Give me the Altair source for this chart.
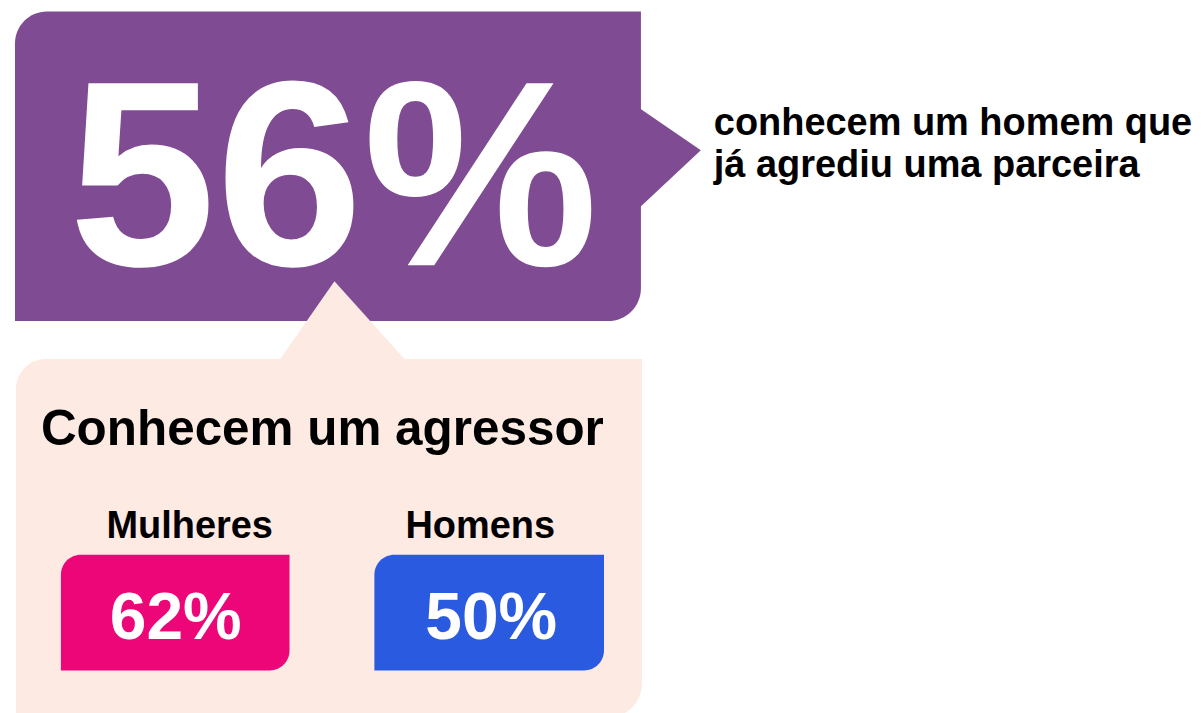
import altair as alt
import pandas as pd

# ---- data -------------------------------------------------------------
headline_value = [56]
headline_caption = ["conhecem um homem que", "já agrediu uma parceira"]
subtitle = ["Conhecem um agressor"]
groups = ["Mulheres", "Homens"]
group_values = [62, 50]
group_colors = ["#EC0677", "#2A5AE0"]

# ---- layout (canvas pixels) -------------------------------------------
W, H, OFF = 1185, 697, 8
FONT = "Liberation Sans"
PURPLE = "#7F4B93"
PINK_BG = "#FCEAE3"

xs = alt.Scale(domain=[OFF, OFF + W], nice=False, zero=False)
ys = alt.Scale(domain=[OFF, OFF + H], nice=False, zero=False, reverse=True)


def X(f="x"):
    return alt.X(f"{f}:Q", scale=xs, axis=None)


def Y(f="y"):
    return alt.Y(f"{f}:Q", scale=ys, axis=None)


# purple headline box
purple_box = alt.Chart(pd.DataFrame({"x": [15], "x2": [642], "y": [11], "y2": [321]})).mark_rect(
    color=PURPLE, cornerRadiusTopLeft=32, cornerRadiusBottomRight=33
).encode(x=X(), x2="x2:Q", y=Y(), y2="y2:Q")

purple_arrow = alt.Chart(pd.DataFrame({"x": [641, 702], "y": [108, 150], "y2": [207, 150]})).mark_area(
    color=PURPLE, orient="vertical", opacity=1
).encode(x=X(), y=Y(), y2="y2:Q")

# pink panel
pink_box = alt.Chart(pd.DataFrame({"x": [16], "x2": [643], "y": [359], "y2": [718]})).mark_rect(
    color=PINK_BG, cornerRadiusTopLeft=30, cornerRadiusBottomRight=34
).encode(x=X(), x2="x2:Q", y=Y(), y2="y2:Q")

pink_pointer = alt.Chart(pd.DataFrame({"y": [281, 360], "x": [335, 280], "x2": [335, 406]})).mark_area(
    color=PINK_BG, orient="horizontal", opacity=1
).encode(y=Y(), x=X(), x2="x2:Q")

# group boxes
gdf = pd.DataFrame({
    "group": groups,
    "value": group_values,
    "color": group_colors,
    "label": [f"{v}%" for v in group_values],
    "x": [61, 375], "x2": [290, 605], "y": [555, 555], "y2": [671, 671],
    "lx": [190, 481], "ly": [538, 538],
    "vx": [176, 492], "vy": [639, 639],
})
group_boxes = alt.Chart(gdf).mark_rect(cornerRadiusTopLeft=20, cornerRadiusBottomRight=20).encode(
    x=X(), x2="x2:Q", y=Y(), y2="y2:Q", color=alt.Color("color:N", scale=None)
)
group_labels = alt.Chart(gdf).mark_text(
    font=FONT, fontWeight="bold", fontSize=38, color="black", align="center", baseline="alphabetic"
).encode(x=X("lx"), y=Y("ly"), text="group:N")
group_vals = alt.Chart(gdf).mark_text(
    font=FONT, fontWeight="bold", fontSize=66, color="white", align="center", baseline="alphabetic"
).encode(x=X("vx"), y=Y("vy"), text="label:N")

# headline number
hdf = pd.DataFrame({"label": [f"{v}%" for v in headline_value], "x": [334], "y": [265]})
headline = alt.Chart(hdf).mark_text(
    font=FONT, fontWeight="bold", fontSize=265, color="white", align="center", baseline="alphabetic"
).encode(x=X(), y=Y(), text="label:N")

cdf = pd.DataFrame({"text": headline_caption, "x": [715, 715], "y": [135, 177]})
caption = alt.Chart(cdf).mark_text(
    font=FONT, fontWeight="bold", fontSize=38, color="black", align="left", baseline="alphabetic"
).encode(x=X(), y=Y(), text="text:N")

sdf = pd.DataFrame({"text": subtitle, "x": [41], "y": [445]})
sub = alt.Chart(sdf).mark_text(
    font=FONT, fontWeight="bold", fontSize=49.5, color="black", align="left", baseline="alphabetic"
).encode(x=X(), y=Y(), text="text:N")

chart = alt.layer(
    purple_box, purple_arrow, pink_box, pink_pointer, group_boxes,
    headline, caption, sub, group_labels, group_vals
).properties(width=W, height=H, padding=0, background="white").configure_view(stroke=None)

chart.save("out.html", embed_options={"renderer": "svg", "actions": False})
